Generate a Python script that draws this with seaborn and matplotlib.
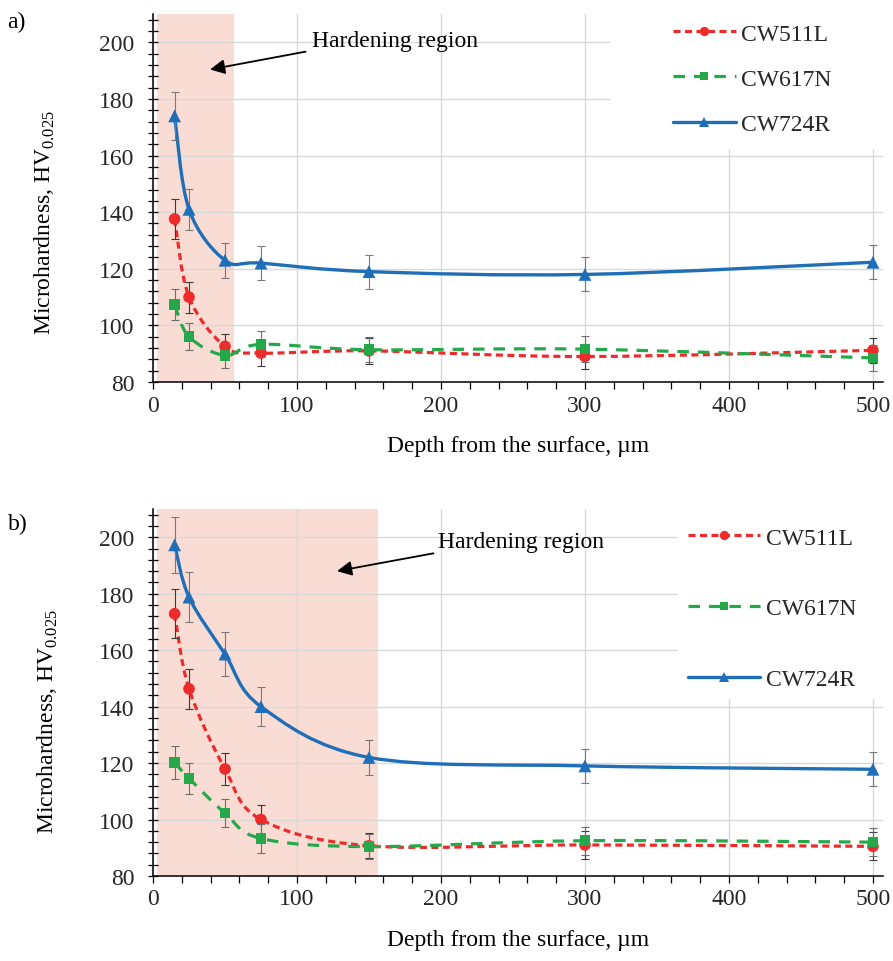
import numpy as np
import pandas as pd
import matplotlib
matplotlib.use('Agg')
import matplotlib.pyplot as plt
import seaborn as sns
from matplotlib.path import Path
from matplotlib.patches import PathPatch, Rectangle
from matplotlib.lines import Line2D
from matplotlib.ticker import MultipleLocator

# ---------------- data ----------------
depth = [15, 25, 50, 75, 150, 300, 500]
series = ['CW511L', 'CW617N', 'CW724R']

a_cw511l = [137.6, 110.0, 92.6, 90.2, 91.0, 89.0, 91.2]
a_cw511l_err = [7.0, 5.5, 4.5, 4.5, 4.5, 4.5, 4.5]
a_cw617n = [107.3, 96.0, 89.4, 93.3, 91.4, 91.6, 88.5]
a_cw617n_err = [5.5, 4.7, 4.5, 4.6, 4.5, 4.5, 4.5]
a_cw724r = [174.0, 141.0, 123.0, 122.0, 119.0, 118.0, 122.3]
a_cw724r_err = [8.5, 7.2, 6.2, 6.0, 6.0, 6.0, 6.0]

b_cw511l = [172.9, 146.3, 117.9, 100.0, 90.7, 91.0, 90.5]
b_cw511l_err = [8.6, 7.2, 5.8, 5.2, 4.5, 5.0, 5.0]
b_cw617n = [120.2, 114.6, 102.3, 93.3, 90.4, 92.5, 92.0]
b_cw617n_err = [6.0, 5.5, 5.0, 5.0, 4.5, 5.0, 5.0]
b_cw724r = [197.3, 178.8, 158.6, 140.0, 122.0, 119.0, 117.8]
b_cw724r_err = [9.8, 8.8, 7.7, 7.0, 6.2, 6.0, 6.0]

hardening_a = (2.5, 56.5)
hardening_b = (2.5, 156.0)
annot_text = 'Hardening region'
xlabel = 'Depth from the surface, µm'
ylabel = r'Microhardness, HV$_{\mathregular{0.025}}$'
xticks = [0, 100, 200, 300, 400, 500]
yticks = [80, 100, 120, 140, 160, 180, 200]

# ---------------- style ----------------
sns.set_theme(style='white')
plt.rcParams['font.family'] = ['Liberation Serif', 'DejaVu Serif']
plt.rcParams['mathtext.fontset'] = 'custom'
plt.rcParams['mathtext.rm'] = 'Liberation Serif'

W, H = 893, 962
FS = 17
colors = {'CW511L': '#EE2A2A', 'CW617N': '#25A84A', 'CW724R': '#1E6EB8'}
markers = {'CW511L': 'o', 'CW617N': 's', 'CW724R': '^'}
msize = {'CW511L': 70, 'CW617N': 58, 'CW724R': 85}
lstyle = {'CW511L': (0, (2.2, 1.4)), 'CW617N': (0, (3.6, 2.8)), 'CW724R': '-'}
lwidth = {'CW511L': 2.3, 'CW617N': 2.3, 'CW724R': 2.4}
ecol = {'CW511L': '#3a3a3a', 'CW617N': '#6e6e6e', 'CW724R': '#7a7a7a'}


def smooth_path(x, y):
    pts = np.column_stack([x, y]).astype(float)
    n = len(pts)
    verts = [pts[0]]
    codes = [Path.MOVETO]
    for i in range(n - 1):
        p0 = pts[i - 1] if i > 0 else pts[i]
        p1 = pts[i]
        p2 = pts[i + 1]
        p3 = pts[i + 2] if i + 2 < n else pts[i + 1]
        verts += [p1 + (p2 - p0) / 6.0, p2 - (p3 - p1) / 6.0, p2]
        codes += [Path.CURVE4] * 3
    return Path(verts, codes)


fig = plt.figure(figsize=(W / 100, H / 100), dpi=100)


def panel(rect, vals, errs, span, tag, tag_xy, arrow_tip, arrow_tail, text_xy,
          cover, leg_anchor, leg_spacing, leg_hlen, ylab_pos):
    ax = fig.add_axes(rect)
    ax.set_xlim(0, 507)
    ax.set_ylim(80, 210)
    ax.set_axisbelow(True)
    ax.axvspan(span[0], span[1], color='#F9DCD4', lw=0, zorder=0.1)
    ax.grid(True, which='major', color='#D9D9D9', lw=1.0, zorder=0.5)
    ax.set_xticks(xticks)
    ax.set_yticks(yticks)
    ax.xaxis.set_minor_locator(MultipleLocator(20))
    ax.yaxis.set_minor_locator(MultipleLocator(4))
    for s in ['top', 'right']:
        ax.spines[s].set_visible(False)
    for s in ['left', 'bottom']:
        ax.spines[s].set_color('black')
        ax.spines[s].set_linewidth(1.1)
    ax.tick_params(axis='y', which='both', direction='inout', length=7, width=0.9,
                   color='black', labelsize=FS, pad=10, left=True)
    ax.tick_params(axis='x', which='both', direction='out', length=5, width=0.9,
                   color='black', labelsize=FS, pad=4, bottom=True)
    # white box behind the legend (covers gridlines)
    x0, y0, x1, y1 = cover
    ax.add_patch(Rectangle((x0 / W, 1 - y1 / H), (x1 - x0) / W, (y1 - y0) / H,
                           transform=fig.transFigure, facecolor='white',
                           edgecolor='none', zorder=0.8, clip_on=False))
    handles = []
    for k, name in enumerate(series):
        z = 2 + k
        v = vals[name]
        e = errs[name]
        patch = PathPatch(smooth_path(depth, v), fill=False, edgecolor=colors[name],
                          lw=lwidth[name], linestyle=lstyle[name], zorder=z,
                          capstyle='butt')
        ax.add_patch(patch)
        ax.errorbar(depth, v, yerr=e, fmt='none', ecolor=ecol[name],
                    elinewidth=0.8, capsize=3.2, capthick=0.8, zorder=z + 0.1)
        df = pd.DataFrame({'depth': depth, 'hv': v})
        sns.scatterplot(data=df, x='depth', y='hv', ax=ax, marker=markers[name],
                        color=colors[name], s=msize[name], edgecolor='none',
                        linewidth=0, zorder=z + 0.2, legend=False)
        handles.append(Line2D([], [], color=colors[name], lw=lwidth[name],
                              linestyle=lstyle[name], marker=markers[name],
                              markersize=np.sqrt(msize[name]) * 0.8,
                              markeredgewidth=0, label=name))
    ax.set_xlabel(xlabel, fontsize=FS, color='black')
    ax.set_ylabel(ylabel, fontsize=FS, color='black')
    ax.yaxis.set_label_coords(ylab_pos[0], ylab_pos[1])
    ax.xaxis.labelpad = 14
    leg = ax.legend(handles=handles, loc='upper left',
                    bbox_to_anchor=(leg_anchor[0] / W, 1 - leg_anchor[1] / H),
                    bbox_transform=fig.transFigure, frameon=False, fontsize=FS,
                    labelspacing=leg_spacing, handlelength=leg_hlen,
                    handletextpad=0.25, borderpad=0, borderaxespad=0,
                    numpoints=1)
    leg.set_zorder(10)
    ax.annotate('', xy=arrow_tip, xytext=arrow_tail, textcoords='data',
                arrowprops=dict(arrowstyle='-|>', color='black', lw=1.3,
                                mutation_scale=22, shrinkA=0, shrinkB=0),
                zorder=9)
    ax.text(text_xy[0], text_xy[1], annot_text, fontsize=FS, ha='left',
            va='center', color='black', zorder=9)
    fig.text(tag_xy[0] / W, 1 - tag_xy[1] / H, tag, fontsize=FS, ha='left',
             va='center', color='black')
    return ax


vals_a = {'CW511L': a_cw511l, 'CW617N': a_cw617n, 'CW724R': a_cw724r}
errs_a = {'CW511L': a_cw511l_err, 'CW617N': a_cw617n_err, 'CW724R': a_cw724r_err}
vals_b = {'CW511L': b_cw511l, 'CW617N': b_cw617n, 'CW724R': b_cw724r}
errs_b = {'CW511L': b_cw511l_err, 'CW617N': b_cw617n_err, 'CW724R': b_cw724r_err}

axa = panel([153 / W, 1 - 383 / H, 730 / W, 368 / H], vals_a, errs_a, hardening_a,
            'a)', (7, 22), (39.6, 190.4), (106.0, 196.7), (110.4, 200.6),
            (610, 0, 893, 150), (673, 24), 1.0, 2.65, (-0.132, 0.435))
axb = panel([153 / W, 1 - 877 / H, 730 / W, 367 / H], vals_b, errs_b, hardening_b,
            'b)', (8, 524), (127.8, 188.0), (194.8, 194.3), (197.9, 198.6),
            (678, 500, 893, 700), (688, 528), 2.08, 3.05, (-0.127, 0.425))

fig.savefig('out.png', dpi=100)
